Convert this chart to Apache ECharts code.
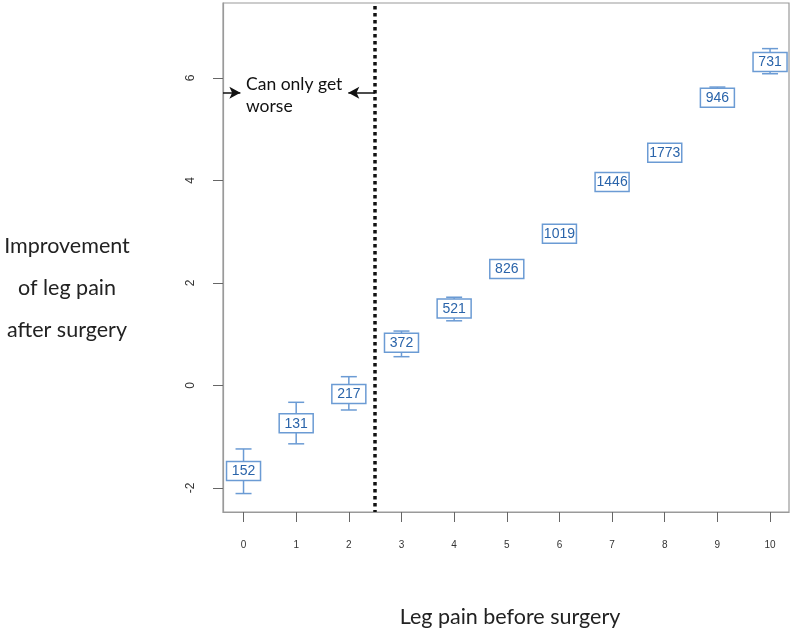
<!DOCTYPE html>
<html>
<head>
<meta charset="utf-8">
<script src="https://cdn.jsdelivr.net/npm/echarts@6/dist/echarts.min.js"></script>
<style>html,body{margin:0;padding:0;background:#fff}#c{width:791px;height:630px}</style>
</head>
<body>
<div id="c"></div>
<script>
// Data
const painBefore = [0, 1, 2, 3, 4, 5, 6, 7, 8, 9, 10];
const meanImprovement = [-1.67, -0.74, -0.17, 0.83, 1.50, 2.27, 2.96, 3.97, 4.54, 5.61, 6.31];
const ciLow = [-2.11, -1.14, -0.48, 0.56, 1.26, 2.15, 2.86, 3.88, 4.45, 5.43, 6.08];
const ciHigh = [-1.24, -0.33, 0.17, 1.06, 1.72, 2.39, 3.06, 4.06, 4.63, 5.82, 6.57];
const counts = [152, 131, 217, 372, 521, 826, 1019, 1446, 1773, 946, 731];
const xTicks = [0, 1, 2, 3, 4, 5, 6, 7, 8, 9, 10];
const yTicks = [-2, 0, 2, 4, 6];
const cutoff = 2.5;
const arrowY = 5.71;

const boxData = painBefore.map((x, i) => [x, meanImprovement[i], ciLow[i], ciHigh[i], counts[i]]);

const chart = echarts.init(document.getElementById('c'), null, {renderer: 'canvas'});
const BLUE_LINE = '#6b9bd4';
const BLUE_TEXT = '#2a64aa';
const TITLE_FONT = 'Lato, "Open Sans", sans-serif';

chart.setOption({
  animation: false,
  backgroundColor: '#fff',
  grid: {left: 223, top: 3, width: 566, height: 509, show: true, borderColor: '#9a9a9a', borderWidth: 1.2, containLabel: false},
  xAxis: {
    type: 'value', min: -0.39, max: 10.36,
    axisLine: {show: true, onZero: false, lineStyle: {color: '#9a9a9a', width: 1.2}},
    axisTick: {show: true, length: 10, lineStyle: {color: '#666'}, customValues: xTicks},
    axisLabel: {fontSize: 10, color: '#333', margin: 28, fontFamily: 'Liberation Sans', customValues: xTicks},
    splitLine: {show: false}
  },
  yAxis: {
    type: 'value', min: -2.47, max: 7.46,
    axisLine: {show: true, onZero: false, lineStyle: {color: '#9a9a9a', width: 1.2}},
    axisTick: {show: true, length: 10, lineStyle: {color: '#666'}, customValues: yTicks},
    axisLabel: {fontSize: 12, color: '#333', margin: 26, rotate: 90, fontFamily: 'Liberation Sans', customValues: yTicks},
    splitLine: {show: false}
  },
  series: [
    {
      type: 'custom',
      data: boxData,
      clip: false,
      renderItem: function (params, api) {
        const x = api.value(0), m = api.value(1), lo = api.value(2), hi = api.value(3), n = api.value(4);
        const c = api.coord([x, m]);
        const pl = api.coord([x, lo]);
        const ph = api.coord([x, hi]);
        const w = 34, h = 19, cap = 8;
        const ls = {stroke: BLUE_LINE, lineWidth: 1.5};
        return {
          type: 'group',
          children: [
            {type: 'line', shape: {x1: c[0], y1: pl[1], x2: c[0], y2: ph[1]}, style: ls},
            {type: 'line', shape: {x1: c[0] - cap, y1: pl[1], x2: c[0] + cap, y2: pl[1]}, style: ls},
            {type: 'line', shape: {x1: c[0] - cap, y1: ph[1], x2: c[0] + cap, y2: ph[1]}, style: ls},
            {type: 'rect', shape: {x: c[0] - w / 2, y: c[1] - h / 2, width: w, height: h}, style: {fill: '#fff', stroke: BLUE_LINE, lineWidth: 1.5}},
            {type: 'text', style: {x: c[0], y: c[1] + 0.5, text: String(n), fill: BLUE_TEXT, font: '14px "Liberation Sans", Arial, sans-serif', align: 'center', verticalAlign: 'middle'}}
          ]
        };
      },
      markLine: {
        silent: true,
        symbol: 'none',
        label: {show: false},
        data: [
          [{coord: [cutoff, 7.4], lineStyle: {color: '#111', width: 3.5, type: [3.5, 3.5]}}, {coord: [cutoff, -2.47]}],
          [{coord: [-0.39, arrowY], symbol: 'none', lineStyle: {color: '#111', width: 1.5, type: 'solid'}}, {coord: [-0.06, arrowY], symbol: 'arrow', symbolSize: [9, 11]}],
          [{coord: [cutoff, arrowY], symbol: 'none', lineStyle: {color: '#111', width: 1.5, type: 'solid'}}, {coord: [1.99, arrowY], symbol: 'arrow', symbolSize: [9, 11]}]
        ]
      }
    }
  ],
  graphic: [
    {type: 'text', left: 246, top: 73, style: {text: 'Can only get\nworse', font: '17.5px ' + TITLE_FONT, fill: '#111', lineHeight: 22}},
    {type: 'text', x: 67, y: 246, style: {text: 'Improvement', font: '21.5px ' + TITLE_FONT, fill: '#222', align: 'center', verticalAlign: 'middle'}},
    {type: 'text', x: 67, y: 288, style: {text: 'of leg pain', font: '21.5px ' + TITLE_FONT, fill: '#222', align: 'center', verticalAlign: 'middle'}},
    {type: 'text', x: 67, y: 330, style: {text: 'after surgery', font: '21.5px ' + TITLE_FONT, fill: '#222', align: 'center', verticalAlign: 'middle'}},
    {type: 'text', x: 510, y: 617, style: {text: 'Leg pain before surgery', font: '21.5px ' + TITLE_FONT, fill: '#222', align: 'center', verticalAlign: 'middle'}}
  ]
});
</script>
</body>
</html>
